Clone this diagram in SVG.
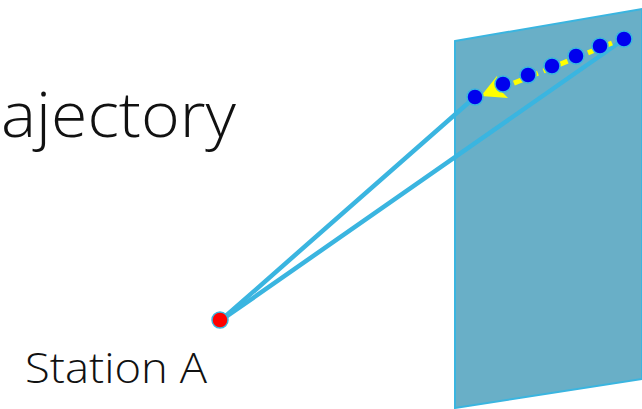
<svg xmlns="http://www.w3.org/2000/svg" width="642" height="409" viewBox="0 0 642 409">
<style>
.lbl{font-family:"Open Sans","Liberation Sans",sans-serif;font-weight:300;fill:#111}
.ray{stroke:#3AB5E0;stroke-width:4.5;stroke-linecap:round;fill:none}
.dot{fill:#0000EE;stroke:#3AB5E0;stroke-width:1.5}
</style>
<g id="title"><text class="lbl" x="1" y="137" font-size="63" textLength="235" lengthAdjust="spacingAndGlyphs">ajectory</text></g>
<g id="plane"><polygon points="455,41 642,9 642,379 455,408" fill="#69AFC7" stroke="#3AB5E0" stroke-width="2"/></g>
<g id="connectors">
<line class="ray" x1="220" y1="321" x2="475" y2="97"/>
<line class="ray" x1="220" y1="321" x2="620" y2="42"/>
</g>
<g id="trajectory">
<line x1="612" y1="43" x2="497" y2="90" stroke="#FFFF00" stroke-width="5" stroke-dasharray="10,6"/>
<polygon points="481,96 497,76 500,90 508,98" fill="#FFFF00"/>
<circle class="dot" cx="475" cy="97" r="8"/>
<circle class="dot" cx="503" cy="84" r="8"/>
<circle class="dot" cx="528" cy="75" r="8"/>
<circle class="dot" cx="552" cy="66" r="8"/>
<circle class="dot" cx="576" cy="56" r="8"/>
<circle class="dot" cx="600" cy="46" r="8"/>
<circle class="dot" cx="624" cy="39" r="8"/>
</g>
<g id="stationA">
<circle cx="220" cy="320" r="8" fill="#FF0000" stroke="#3AB5E0" stroke-width="1.5"/>
<text class="lbl" x="25" y="383" font-size="42" textLength="182" lengthAdjust="spacingAndGlyphs">Station A</text>
</g>
</svg>
